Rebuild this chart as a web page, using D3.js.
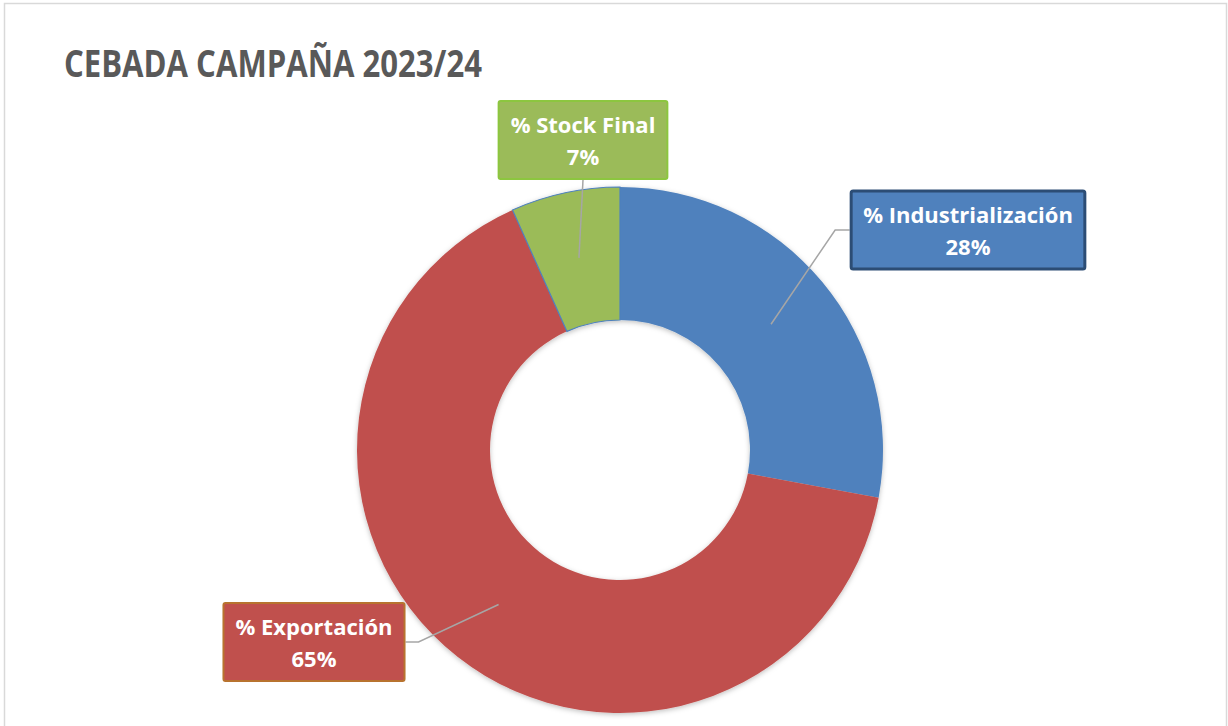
<!DOCTYPE html>
<html>
<head>
<meta charset="utf-8">
<script src="https://cdn.jsdelivr.net/npm/d3@7"></script>
<style>
  body { margin: 0; background: #fff; }
  svg { display: block; }
</style>
</head>
<body>
<svg class="donut" width="1228" height="726"></svg>
<script>
// data
let categories = ["% Industrialización", "% Exportación", "% Stock Final"];
let values = [27.9, 65.4, 6.7];
let labels = ["28%", "65%", "7%"];
let colors = ["#4F81BD", "#C0504D", "#9BBB59"];
let borders = ["#2C4D75", "#B8732F", "#8CC63F"];

// where each label box sits (center) and which side the leader leaves from
let boxCenters = [[968, 230], [314, 642], [583, 140]];
let boxSides = ["left", "right", "bottom"];

let svg = d3.select("body").select(".donut");

// frame
svg.append("rect")
  .attr("x", 4.5).attr("y", 3.5)
  .attr("width", 1222).attr("height", 740)
  .attr("fill", "#fff")
  .attr("stroke", "#D9D9D9")
  .attr("stroke-width", 1.5);

// title
svg.append("text")
  .attr("x", 64)
  .attr("y", 77)
  .attr("font-family", "Open Sans")
  .attr("font-weight", 700)
  .attr("font-size", 38)
  .attr("fill", "#595959")
  .attr("textLength", 418)
  .attr("lengthAdjust", "spacingAndGlyphs")
  .text("CEBADA CAMPAÑA 2023/24");

let defs = svg.append("defs");
let filter = defs.append("filter").attr("id", "shadow")
  .attr("x", "-10%").attr("y", "-10%").attr("width", "120%").attr("height", "120%");
filter.append("feDropShadow")
  .attr("dx", 0).attr("dy", 1.5)
  .attr("stdDeviation", 2.5)
  .attr("flood-color", "#000")
  .attr("flood-opacity", 0.25);

let cx = 620, cy = 450;
let outer = 263, inner = 130;

let pie = d3.pie().sort(null).value(d => d);
let arc = d3.arc().innerRadius(inner).outerRadius(outer);
let arcs = pie(values);

let plot = svg.append("g").attr("transform", translate(cx, cy));

plot.append("g").attr("filter", "url(#shadow)")
  .selectAll("path")
  .data(arcs)
  .enter().append("path")
  .attr("d", arc)
  .attr("fill", (d, i) => colors[i])
  .attr("stroke", (d, i) => i == 2 ? "#4F81BD" : "none")
  .attr("stroke-width", 1.2);

// label boxes
let labelG = svg.append("g");
arcs.forEach(function(d, i) {
  let c = arc.centroid(d);
  let px = cx + c[0], py = cy + c[1];
  let bx = boxCenters[i][0], by = boxCenters[i][1];

  let g = labelG.append("g");
  let t1 = g.append("text")
    .attr("x", bx).attr("y", by - 7)
    .attr("text-anchor", "middle")
    .attr("font-family", "Open Sans")
    .attr("font-weight", 700)
    .attr("font-size", 22)
    .attr("fill", "#fff")
    .text(categories[i]);
  g.append("text")
    .attr("x", bx).attr("y", by + 25)
    .attr("text-anchor", "middle")
    .attr("font-family", "Open Sans")
    .attr("font-weight", 700)
    .attr("font-size", 22)
    .attr("fill", "#fff")
    .text(labels[i]);

  let w = t1.node().getComputedTextLength() + 24;
  let h = 78;
  let x0 = bx - w / 2, y0 = by - h / 2;

  g.insert("rect", "text")
    .attr("x", x0).attr("y", y0)
    .attr("width", w).attr("height", h)
    .attr("rx", 2)
    .attr("fill", colors[i])
    .attr("stroke", borders[i])
    .attr("stroke-width", i == 0 ? 3 : 2);

  let pts;
  if (boxSides[i] == "left") pts = [[x0 - 1.5, by], [x0 - 16, by], [px, py]];
  else if (boxSides[i] == "right") pts = [[x0 + w + 1, by], [x0 + w + 14, by], [px, py]];
  else pts = [[bx, y0 + h + 1], [px, py]];

  labelG.insert("path", "g")
    .attr("d", d3.line()(pts))
    .attr("fill", "none")
    .attr("stroke", "#A6A6A6")
    .attr("stroke-width", 1.5);
});

function translate(x, y) {
  return 'translate(' + x + ',' + y + ')';
}
</script>
</body>
</html>
